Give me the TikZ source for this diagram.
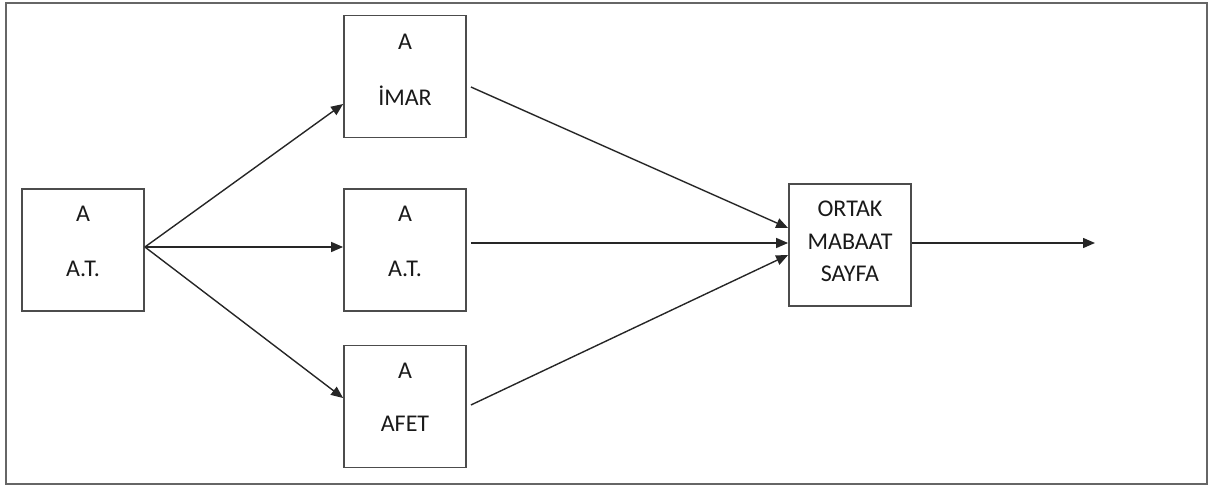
\documentclass[tikz,border=0pt]{standalone}
\usepackage{fontspec}
\setmainfont{Carlito}
\usetikzlibrary{calc,arrows.meta}
\begin{document}
\begin{tikzpicture}[x=1pt,y=-1pt,
  box/.style={draw=black!70,line width=1.8pt,minimum width=122pt,minimum height=122pt,inner sep=0pt},
  txt/.style={font=\fontsize{24pt}{28pt}\selectfont,text=black!90,align=center,inner sep=0pt},
  conn/.style={draw=black!85,line width=1.4pt,-{Triangle[length=12pt,width=10pt]}}]
\useasboundingbox (0,0) rectangle (1211,486);
\draw[draw=black!60,line width=2.2pt] (6,3) rectangle (1207,484);
% boxes
\node[box] (l) at (83,250) {};
\node[box] (t) at (405,76.5) {};
\node[box] (m) at (405,250) {};
\node[box] (b) at (405,406.5) {};
\node[box] (r) at (850,245) {};
% texts
\node[txt] (lt1) at (83,214) {A};
\node[txt] (lt2) at (83,269) {A.T.};
\node[txt] (tt1) at (405,42) {A};
\node[txt] (tt2) at (405,96) {İMAR};
\node[txt] (mt1) at (405,214) {A};
\node[txt] (mt2) at (405,269) {A.T.};
\node[txt] (bt1) at (405,371) {A};
\node[txt] (bt2) at (405,424) {AFET};
\node[txt] (rt1) at (850,209) {ORTAK};
\node[txt] (rt2) at (850,242) {MABAAT};
\node[txt] (rt3) at (850,274) {SAYFA};
% connectors
\coordinate (out) at (1095,243);
\draw[conn] ($(l.east)+(0,-3)$) -- ($(t.west)+(0,27.5)$);
\draw[conn] ($(l.east)+(0,-3)$) -- ($(m.west)+(0,-3)$);
\draw[conn] ($(l.east)+(0,-3)$) -- ($(b.west)+(0,-8.5)$);
\draw[conn] ($(t.east)+(4,10.5)$) -- ($(r.west)+(0,-17)$);
\draw[conn] ($(m.east)+(4,-7)$) -- ($(r.west)+(0,-2)$);
\draw[conn] ($(b.east)+(4,-1.5)$) -- ($(r.west)+(0,10)$);
\draw[conn] ($(r.east)+(0,-2)$) -- (out);
\end{tikzpicture}
\end{document}
